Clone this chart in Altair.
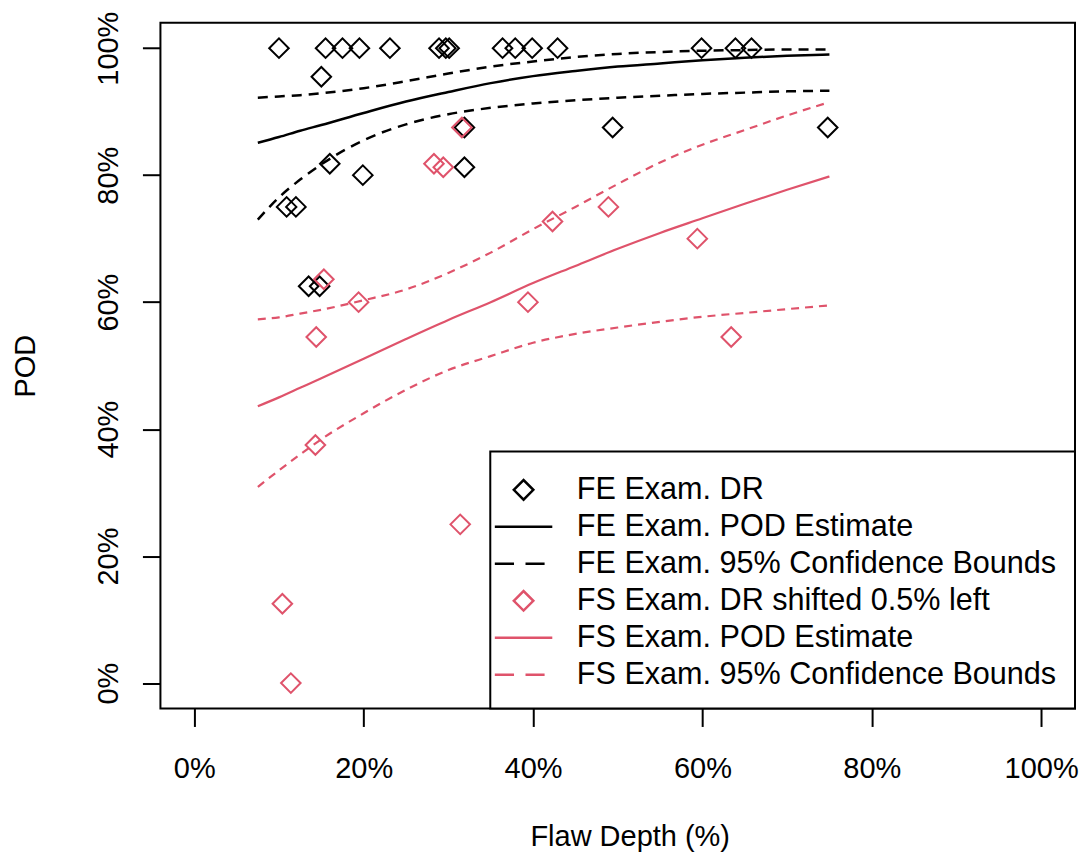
import altair as alt
import pandas as pd

FONT = "Liberation Sans"
BLACK = "#000000"
RED = "#DF536B"

# Legend entries (order as in the reference)
series_names = [
    "FE Exam. DR",
    "FE Exam. POD Estimate",
    "FE Exam. 95% Confidence Bounds",
    "FS Exam. DR shifted 0.5% left",
    "FS Exam. POD Estimate",
    "FS Exam. 95% Confidence Bounds",
]
series_colors = [BLACK, BLACK, BLACK, RED, RED, RED]

# FE exam detection rates (flaw depth %, POD %)
fe_x = [10.0, 15.5, 17.5, 19.5, 23.1, 28.9, 29.7, 30.1, 36.4, 37.9, 39.9, 42.9,
        59.9, 63.9, 65.8, 15.0, 31.9, 49.4, 74.8, 16.0, 19.9, 31.9, 10.9, 12.0,
        13.5, 14.8]
fe_y = [100.0, 100.0, 100.0, 100.0, 100.0, 100.0, 100.0, 100.0, 100.0, 100.0,
        100.0, 100.0, 100.0, 100.0, 100.0, 95.5, 87.5, 87.5, 87.5, 81.8, 80.0,
        81.25, 75.0, 75.0, 62.5, 62.5]

# FS exam detection rates (shifted 0.5% left)
fs_x = [10.4, 11.4, 14.3, 14.4, 15.3, 19.4, 28.3, 29.4, 31.4, 31.6, 39.4, 42.3,
        48.9, 59.4, 63.4]
fs_y = [12.5, 0.0, 37.5, 54.5, 63.6, 60.0, 81.8, 81.25, 25.0, 87.5, 60.0, 72.7,
        75.0, 70.0, 54.5]

# Fitted curves
curve_x = [7.5, 10, 12.5, 15, 20, 25, 30, 35, 40, 45, 50, 55, 60, 65, 70, 75]
fe_pod = [85.1, 86.0, 87.0, 87.9, 89.8, 91.6, 93.1, 94.5, 95.6, 96.4, 97.1, 97.6,
          98.1, 98.5, 98.8, 99.0]
fe_upper = [92.2, 92.4, 92.6, 92.9, 93.7, 94.8, 96.0, 97.1, 97.9, 98.6, 99.1, 99.4,
            99.6, 99.7, 99.8, 99.8]
fe_lower = [73.0, 76.5, 79.3, 81.7, 85.5, 88.0, 89.6, 90.6, 91.3, 91.8, 92.2, 92.5,
            92.8, 93.0, 93.2, 93.3]
fs_pod = [43.6, 45.0, 46.5, 48.0, 51.1, 54.2, 57.2, 60.0, 63.0, 65.7, 68.4, 70.9,
          73.2, 75.5, 77.7, 79.8]
fs_upper = [57.3, 57.6, 58.2, 58.8, 60.3, 62.0, 64.6, 67.8, 71.5, 75.0, 78.6, 82.0,
            84.8, 87.1, 89.4, 91.5]
fs_lower = [30.9, 33.5, 36.0, 38.4, 42.5, 46.2, 49.3, 51.5, 53.6, 55.0, 56.0, 56.9,
            57.7, 58.3, 58.9, 59.5]

tick_values = [0, 20, 40, 60, 80, 100]

# ---- tables ----
points = pd.DataFrame({
    "depth": fe_x + fs_x,
    "pod": fe_y + fs_y,
    "series": [series_names[0]] * len(fe_x) + [series_names[3]] * len(fs_x),
})

curve_rows = []
for name, vals in [("fe_pod", fe_pod), ("fe_upper", fe_upper), ("fe_lower", fe_lower),
                   ("fs_pod", fs_pod), ("fs_upper", fs_upper), ("fs_lower", fs_lower)]:
    for xv, yv in zip(curve_x, vals):
        curve_rows.append({"curve": name, "depth": xv, "pod": yv})
curves = pd.DataFrame(curve_rows)

# legend symbols: custom paths (diamond, solid line, dashed line)
DIAMOND = "M-0.85,0L0,-0.85L0.85,0L0,0.85Z"
SOLID = "M-2.5,0L2.5,0"
DASHED = "M-2.5,0L-0.83,0M0.17,0L1.83,0"
series_shapes = [DIAMOND, SOLID, DASHED, DIAMOND, SOLID, DASHED]

x_scale = alt.Scale(domain=[-4, 104], nice=False, zero=False)
y_scale = alt.Scale(domain=[-4, 104], nice=False, zero=False)

x_axis = alt.Axis(
    values=tick_values, labelExpr="datum.value + '%'", title="Flaw Depth (%)",
    domain=False, grid=False, tickSize=18, tickWidth=2, tickColor=BLACK,
    labelFont=FONT, labelFontSize=29, labelColor=BLACK, labelBaseline="alphabetic",
    labelPadding=50.6, labelFlush=False, labelOverlap=False,
    titleFont=FONT, titleFontSize=29, titleFontWeight="normal", titleColor=BLACK,
    titleBaseline="alphabetic", titleAlign="center", titleX=469.5, titleY=136.6,
)
y_axis = alt.Axis(
    values=tick_values, labelExpr="datum.value + '%'", title="POD",
    domain=False, grid=False, tickSize=18, tickWidth=2, tickColor=BLACK,
    labelFont=FONT, labelFontSize=29, labelColor=BLACK, labelAngle=270,
    labelAlign="center", labelBaseline="alphabetic", labelPadding=24.5,
    labelFlush=False, labelOverlap=False,
    titleFont=FONT, titleFontSize=29, titleFontWeight="normal", titleColor=BLACK,
    titleAngle=270, titleAlign="center", titleBaseline="alphabetic", titleX=-125.5,
)

legend = alt.Legend(
    title=" ", titleFontSize=1, titlePadding=4,
    orient="bottom-right", offset=0, padding=18,
    labelFont=FONT, labelFontSize=30.6, labelColor=BLACK, labelLimit=800,
    labelOffset=38, rowPadding=6, symbolSize=529, symbolStrokeWidth=2.5,
    strokeColor=BLACK, fillColor="white",
)

pts = alt.Chart(points).mark_point(filled=False, size=529, strokeWidth=2, opacity=1).encode(
    x=alt.X("depth:Q", scale=x_scale, axis=x_axis),
    y=alt.Y("pod:Q", scale=y_scale, axis=y_axis),
    color=alt.Color("series:N", scale=alt.Scale(domain=series_names, range=series_colors),
                    legend=legend, sort=series_names),
    shape=alt.Shape("series:N", scale=alt.Scale(domain=series_names, range=series_shapes),
                    legend=legend, sort=series_names),
)


def curve_layer(names, color, width, dash=None):
    kw = dict(color=color, strokeWidth=width, interpolate="monotone")
    if dash:
        kw["strokeDash"] = dash
    return alt.Chart(curves).transform_filter(
        alt.FieldOneOfPredicate(field="curve", oneOf=names)
    ).mark_line(**kw).encode(
        x=alt.X("depth:Q", scale=x_scale),
        y=alt.Y("pod:Q", scale=y_scale),
        detail="curve:N",
    )


fe_solid = curve_layer(["fe_pod"], BLACK, 2.5)
fe_dash = curve_layer(["fe_upper", "fe_lower"], BLACK, 2.5, [10, 7])
fs_solid = curve_layer(["fs_pod"], RED, 2.2)
fs_dash = curve_layer(["fs_upper", "fs_lower"], RED, 2.2, [8, 6])

chart = alt.layer(pts, fe_solid, fe_dash, fs_solid, fs_dash).properties(
    width=915, height=686,
    autosize=alt.AutoSizeParams(type="none"),
    padding={"left": 152.5, "top": 14.6, "right": 5, "bottom": 150},
    background="white",
).configure_view(stroke=BLACK, strokeWidth=2).configure_legend(strokeWidth=2)

chart.save("out.html", embed_options={"renderer": "svg", "actions": False})
